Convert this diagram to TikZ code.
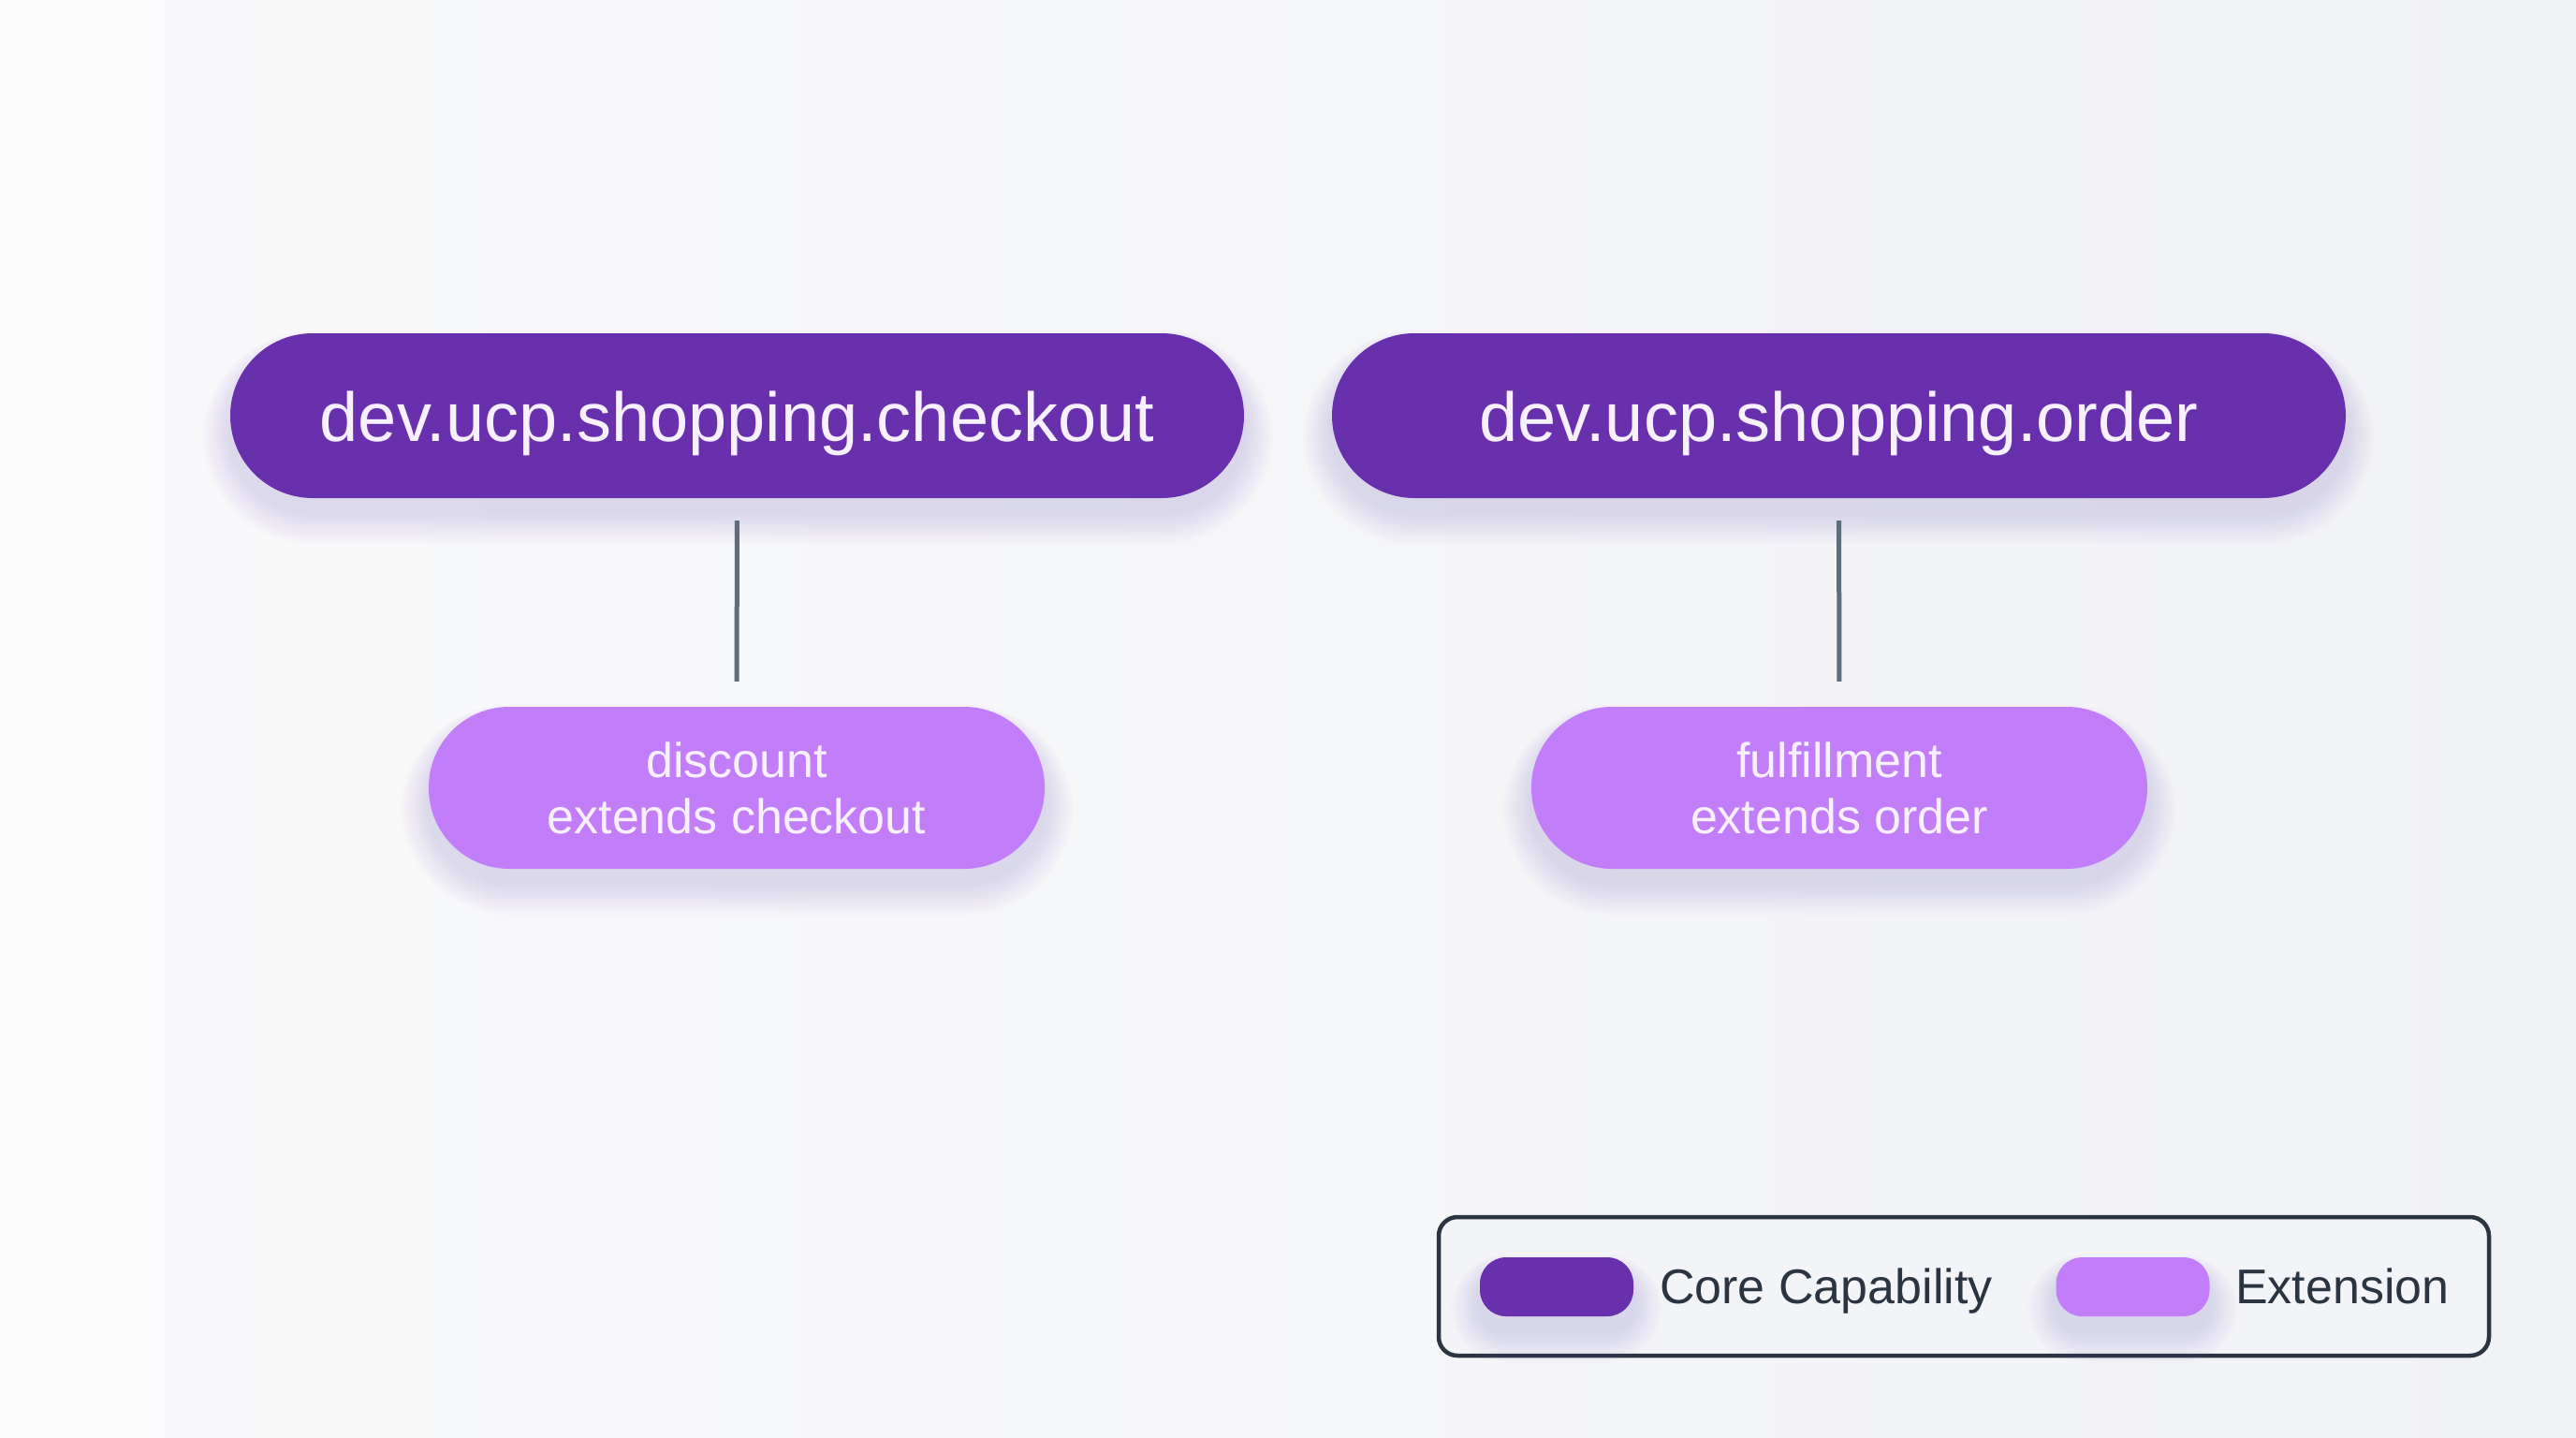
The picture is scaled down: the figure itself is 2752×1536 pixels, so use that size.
\documentclass[tikz,border=0pt]{standalone}
\usepackage{fontspec}
\setmainfont{Liberation Sans}
\usetikzlibrary{positioning}
\definecolor{bgtl}{HTML}{FAFAFB}
\definecolor{bgbr}{HTML}{F1F2F6}
\definecolor{legfill}{HTML}{F3F4F8}
\definecolor{corec}{HTML}{6930AE}
\definecolor{extc}{HTML}{C17EF8}
\definecolor{shadc}{HTML}{9B6FD6}
\definecolor{linec}{HTML}{5E6C7C}
\definecolor{legc}{HTML}{2B3441}
\definecolor{pilltext}{HTML}{F6F0FF}
\newcommand{\pillshadow}[5]{%
  \foreach \i in {1,...,14}{%
    \fill[shadc, opacity=0.017, rounded corners={#5+\i*2.2pt}]
      ({#1-\i*2.2},{#2+14-\i*1.2}) rectangle ({#3+\i*2.2},{#4+16+\i*2.4});
  }%
}
\tikzset{
  corebox/.style={fill=corec, rounded corners=88pt, minimum width=1083pt, minimum height=176pt,
    inner sep=0pt, text=pilltext, font=\fontsize{74}{80}\selectfont,
    text height=65pt, text depth=10pt},
  extbox/.style={fill=extc, rounded corners=86pt, minimum width=658pt, minimum height=173pt,
    inner sep=0pt, text=pilltext, align=center, font=\fontsize{52}{60}\selectfont},
  conn/.style={draw=linec, line width=5pt},
  swatch/.style={rounded corners=28pt, minimum width=164pt, minimum height=63pt, inner sep=0pt},
  legtext/.style={text=legc, anchor=base west, inner sep=0pt, font=\fontsize{52}{60}\selectfont}
}
\begin{document}
\begin{tikzpicture}[x=1pt,y=-1pt]
\useasboundingbox (0,0) rectangle (2752,1536);
\shade[shading angle=135, left color=bgtl, right color=bgbr] (0,0) rectangle (2752,1536);
% shadows
\pillshadow{246}{356}{1329}{532}{88pt}
\pillshadow{1423}{356}{2506}{532}{88pt}
\pillshadow{458}{755}{1116}{928}{86pt}
\pillshadow{1636}{755}{2294}{928}{86pt}
% nodes
\node[corebox] (checkout) at (787.5,444) {dev.ucp.shopping.checkout};
\node[corebox] (order) at (1964.5,444) {dev.ucp.shopping.order};
\node[extbox] (discount) at (787,841.5) {discount\\extends checkout};
\node[extbox] (fulfil) at (1965,841.5) {fulfillment\\extends order};
% connectors
\draw[conn, shorten <=24pt, shorten >=27pt] (checkout.south) -- (discount.north);
\draw[conn, shorten <=24pt, shorten >=27pt] (order.south) -- (fulfil.north);
% legend
\node[draw=legc, line width=4.5pt, rounded corners=20pt, fill=legfill,
  minimum width=1122pt, minimum height=148pt, inner sep=0pt] (legend) at (2098,1374) {};
\pillshadow{1581}{1343}{1745}{1406}{28pt}
\pillshadow{2197}{1343}{2360}{1406}{28pt}
\node[swatch, fill=corec] (coresw) at (1663,1374.5) {};
\node[swatch, fill=extc] (extsw) at (2278.5,1374.5) {};
\node[legtext] (coretxt) at (1773,1392) {Core Capability};
\node[legtext] (exttxt) at (2388,1392) {Extension};
\end{tikzpicture}
\end{document}
